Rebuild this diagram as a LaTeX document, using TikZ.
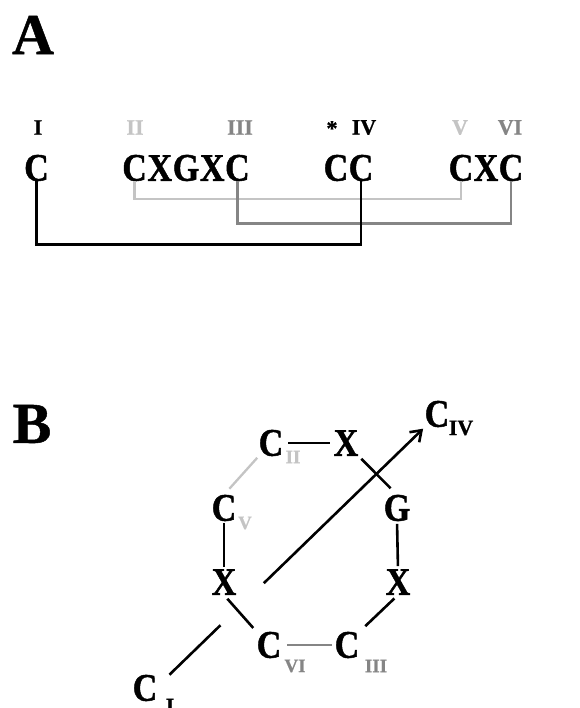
\documentclass[tikz,border=0pt]{standalone}
\usepackage{fontspec}
\setmainfont{Liberation Serif}[FakeBold=0.8]
\newfontfamily\tb{Liberation Serif}[FakeStretch=0.87,FakeBold=1.2]
\usetikzlibrary{arrows.meta,calc}
\definecolor{lgray}{HTML}{C4C4C4}
\definecolor{mgray}{HTML}{858585}
\begin{document}
\begin{tikzpicture}[x=1pt,y=-1pt,
  let/.style={font=\tb\bfseries\fontsize{39}{39}\selectfont,inner sep=0pt},
  num/.style={font=\bfseries\fontsize{22}{22}\selectfont,inner sep=0pt},
  subn/.style={font=\bfseries\fontsize{19}{19}\selectfont,inner sep=0pt},
  subb/.style={font=\bfseries\fontsize{22}{22}\selectfont,inner sep=0pt},
  panel/.style={font=\bfseries\fontsize{58}{58}\selectfont,inner sep=0pt},
  ln/.style={line width=2.6pt},
  lnl/.style={line width=2.3pt,lgray},
  lnm/.style={line width=2.5pt,mgray}]
\fill[white] (0,0) rectangle (579,708);
\useasboundingbox (0,0) rectangle (579,708);
% panel labels
\node[panel] (pA) at (33,35) {A};
\node[panel] (pB) at (32,424) {B};
% ---------- panel A ----------
\node[let] (aC1) at (36.5,168) {C};
\node[let] (aC2) at (134.6,168) {C};
\node[let] (aX1) at (159.8,168) {X};
\node[let] (aG)  at (186,168) {G};
\node[let] (aX2) at (212.2,168) {X};
\node[let] (aC6) at (237.4,168) {C};
\node[let] (aC7) at (336,168) {C};
\node[let] (aC8) at (361,168) {C};
\node[let] (aC9) at (461,168) {C};
\node[let] (aX3) at (486,168) {X};
\node[let] (aC11) at (511,168) {C};
\node[num] (nI) at (38,127.5) {I};
\node[num,lgray] (nII) at (135,127.5) {II};
\node[num,mgray] (nIII) at (240,127.5) {III};
\node[num,anchor=north] (nst) at (332,121) {*};
\node[num] (nIV) at (364,127.5) {IV};
\node[num,lgray] (nV) at (460,127.5) {V};
\node[num,mgray] (nVI) at (510,127.5) {VI};
\draw[lnl] (aC2.south) -- ++(0,18) -| (aC9.south);
\draw[lnm] (aC6.south) -- ++(0,42) -| (aC11.south);
\draw[ln] (aC1.south) -- ++(0,63) -| (aC8.south);
% ---------- panel B ----------
\node[let] (bC2) at (271,443) {C};
\node[let] (bXt) at (346,443) {X};
\node[let] (bG)  at (397,508) {G};
\node[let] (bXr) at (398,582) {X};
\node[let] (bC3) at (347,645) {C};
\node[let] (bC6) at (269,645) {C};
\node[let] (bXl) at (224,582) {X};
\node[let] (bC5) at (224,508) {C};
\node[let] (bC1) at (145,688) {C};
\node[let] (bC4) at (437,414) {C};
\node[subn,lgray] (sII) at (293,457) {II};
\node[subn,lgray] (sV) at (245,523) {V};
\node[subn,mgray] (sVI) at (295,666) {VI};
\node[subn,mgray] (sIII) at (376,666) {III};
\node[subb] (sIV) at (461,428) {IV};
\node[subb] (sI) at (170,706) {I};
\draw[ln,shorten <=5pt,shorten >=4pt] (bC2.east) -- (bXt.west);
\draw[ln,shorten <=4pt,shorten >=9pt] (bXt.south east) -- (bG.north);
\draw[ln,shorten <=2.5pt,shorten >=3pt] (bG.south) -- (bXr.north);
\draw[ln,shorten <=5pt,shorten >=8pt] (bXr.south) -- (bC3.north east);
\draw[lnm,shorten <=6pt,shorten >=3pt] (bC6.east) -- (bC3.west);
\draw[ln,shorten <=5pt,shorten >=5pt] (bXl.south) -- (bC6.north west);
\draw[ln,shorten <=2pt,shorten >=2pt] (bC5.south) -- (bXl.north);
\draw[lnl,shorten <=2pt,shorten >=8pt] (bC2.south west) -- (bC5.north);
\coordinate (p1) at ([xshift=12pt]bC1.north east);
\coordinate (p2) at (bC4.south west);
\draw[ln] (p1) -- ($(p1)!0.2!(p2)$);
\draw[ln,-{Straight Barb[length=10pt,width=14pt]},shorten >=2pt] ($(p1)!0.37!(p2)$) -- (p2);
\end{tikzpicture}
\end{document}
